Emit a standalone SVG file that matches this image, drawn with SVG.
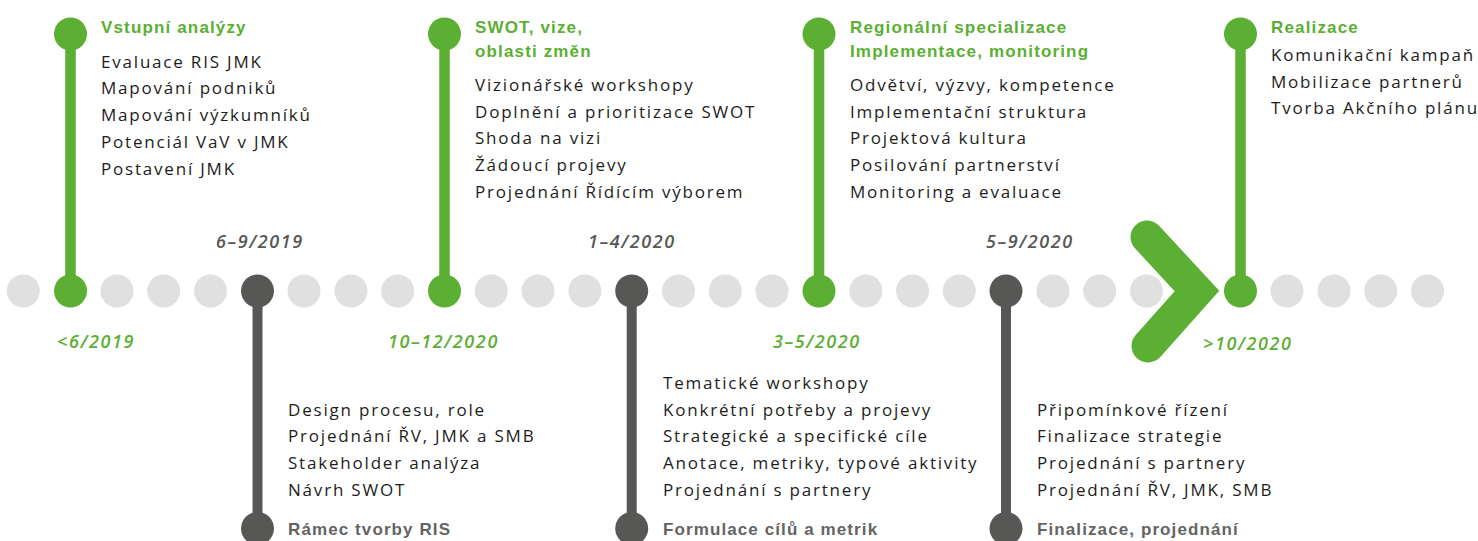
<svg xmlns="http://www.w3.org/2000/svg" width="1478" height="541" viewBox="0 0 1478 541">
<style>
.dot{fill:#e0e0e0}
.g{fill:#5baf32}
.d{fill:#575756}
.gs{stroke:#5baf32;stroke-width:10.5}
.ds{stroke:#575756;stroke-width:10}
.t{font-family:"Open Sans","Liberation Sans",Arial,sans-serif;font-size:17px;fill:#1d1d1b;letter-spacing:1.8px}
.ht{font-family:"Liberation Sans",Arial,sans-serif;font-size:17px;font-weight:bold;fill:#5baf32;letter-spacing:1.15px}
.hd{font-family:"Liberation Sans",Arial,sans-serif;font-size:17px;font-weight:bold;fill:#646463;letter-spacing:1.1px}
.dt{font-family:"Open Sans","Liberation Sans",sans-serif;font-size:18px;font-style:italic;font-weight:600;letter-spacing:1.6px}
.dg{fill:#5baf32}
.dd{fill:#575756}
</style>
<rect width="1478" height="541" fill="#ffffff"/>
<g id="connectors">
<g id="timeline-dots">
<circle class="dot" cx="23.3" cy="291" r="16.5"/>
<circle class="dot" cx="117" cy="291" r="16.5"/>
<circle class="dot" cx="163.7" cy="291" r="16.5"/>
<circle class="dot" cx="210.5" cy="291" r="16.5"/>
<circle class="dot" cx="304" cy="291" r="16.5"/>
<circle class="dot" cx="351" cy="291" r="16.5"/>
<circle class="dot" cx="397.7" cy="291" r="16.5"/>
<circle class="dot" cx="491.3" cy="291" r="16.5"/>
<circle class="dot" cx="538" cy="291" r="16.5"/>
<circle class="dot" cx="584.9" cy="291" r="16.5"/>
<circle class="dot" cx="678.5" cy="291" r="16.5"/>
<circle class="dot" cx="725.3" cy="291" r="16.5"/>
<circle class="dot" cx="772" cy="291" r="16.5"/>
<circle class="dot" cx="865.9" cy="291" r="16.5"/>
<circle class="dot" cx="912.5" cy="291" r="16.5"/>
<circle class="dot" cx="959.3" cy="291" r="16.5"/>
<circle class="dot" cx="1053" cy="291" r="16.5"/>
<circle class="dot" cx="1099.7" cy="291" r="16.5"/>
<circle class="dot" cx="1146.5" cy="291" r="16.5"/>
<circle class="dot" cx="1287" cy="291" r="16.5"/>
<circle class="dot" cx="1334" cy="291" r="16.5"/>
<circle class="dot" cx="1380.7" cy="291" r="16.5"/>
<circle class="dot" cx="1427.5" cy="291" r="16.5"/>
</g>
<path id="chevron" d="M1147 237 L1197 291 L1148 346" fill="none" stroke="#5baf32" stroke-width="33" stroke-linecap="round" stroke-linejoin="miter"/>
</g>

<g id="m1">
<line class="gs" x1="70.5" y1="34" x2="70.5" y2="291"/>
<circle class="g" cx="70.5" cy="34" r="16.5"/>
<circle class="g" cx="70.5" cy="291" r="16.5"/>
<text class="ht" x="101" y="33">Vstupní analýzy</text>
<text class="t" x="101" y="67.7">Evaluace RIS JMK</text>
<text class="t" x="101" y="94.4">Mapování podniků</text>
<text class="t" x="101" y="121.1">Mapování výzkumníků</text>
<text class="t" x="101" y="147.8">Potenciál VaV v JMK</text>
<text class="t" x="101" y="174.5">Postavení JMK</text>
<text class="dt dg" x="57" y="348">&lt;6/2019</text>
</g>

<g id="m2">
<line class="ds" x1="257.5" y1="291" x2="257.5" y2="528.5"/>
<circle class="d" cx="257.5" cy="291" r="16.5"/>
<circle class="d" cx="257.5" cy="528.5" r="16.5"/>
<text class="t" x="288" y="415.7">Design procesu, role</text>
<text class="t" x="288" y="442.4">Projednání ŘV, JMK a SMB</text>
<text class="t" x="288" y="469.1">Stakeholder analýza</text>
<text class="t" x="288" y="495.8">Návrh SWOT</text>
<text class="hd" x="288" y="535">Rámec tvorby RIS</text>
<text class="dt dd" x="216" y="248">6–9/2019</text>
</g>

<g id="m3">
<line class="gs" x1="444.5" y1="34" x2="444.5" y2="291"/>
<circle class="g" cx="444.5" cy="34" r="16.5"/>
<circle class="g" cx="444.5" cy="291" r="16.5"/>
<text class="ht" x="475" y="33">SWOT, vize,</text>
<text class="ht" x="475" y="57">oblasti změn</text>
<text class="t" x="475" y="91">Vizionářské workshopy</text>
<text class="t" x="475" y="117.7">Doplnění a prioritizace SWOT</text>
<text class="t" x="475" y="144.4">Shoda na vizi</text>
<text class="t" x="475" y="171.1">Žádoucí projevy</text>
<text class="t" x="475" y="197.8">Projednání Řídícím výborem</text>
<text class="dt dg" x="388" y="348">10–12/2020</text>
</g>

<g id="m4">
<line class="ds" x1="631.7" y1="291" x2="631.7" y2="528.5"/>
<circle class="d" cx="631.7" cy="291" r="16.5"/>
<circle class="d" cx="631.7" cy="528.5" r="16.5"/>
<text class="t" x="663" y="389">Tematické workshopy</text>
<text class="t" x="663" y="415.7">Konkrétní potřeby a projevy</text>
<text class="t" x="663" y="442.4">Strategické a specifické cíle</text>
<text class="t" x="663" y="469.1">Anotace, metriky, typové aktivity</text>
<text class="t" x="663" y="495.8">Projednání s partnery</text>
<text class="hd" x="663" y="535">Formulace cílů a metrik</text>
<text class="dt dd" x="588" y="248">1–4/2020</text>
</g>

<g id="m5">
<line class="gs" x1="819" y1="34" x2="819" y2="291"/>
<circle class="g" cx="819" cy="34" r="16.5"/>
<circle class="g" cx="819" cy="291" r="16.5"/>
<text class="ht" x="850" y="33">Regionální specializace</text>
<text class="ht" x="850" y="57">Implementace, monitoring</text>
<text class="t" x="850" y="91">Odvětví, výzvy, kompetence</text>
<text class="t" x="850" y="117.7">Implementační struktura</text>
<text class="t" x="850" y="144.4">Projektová kultura</text>
<text class="t" x="850" y="171.1">Posilování partnerství</text>
<text class="t" x="850" y="197.8">Monitoring a evaluace</text>
<text class="dt dg" x="773" y="348">3–5/2020</text>
</g>

<g id="m6">
<line class="ds" x1="1006" y1="291" x2="1006" y2="528.5"/>
<circle class="d" cx="1006" cy="291" r="16.5"/>
<circle class="d" cx="1006" cy="528.5" r="16.5"/>
<text class="t" x="1037" y="415.7">Připomínkové řízení</text>
<text class="t" x="1037" y="442.4">Finalizace strategie</text>
<text class="t" x="1037" y="469.1">Projednání s partnery</text>
<text class="t" x="1037" y="495.8">Projednání ŘV, JMK, SMB</text>
<text class="hd" x="1037" y="535">Finalizace, projednání</text>
<text class="dt dd" x="986" y="248">5–9/2020</text>
</g>

<g id="m7">
<line class="gs" x1="1240.5" y1="34" x2="1240.5" y2="291"/>
<circle class="g" cx="1240.5" cy="34" r="16.5"/>
<circle class="g" cx="1240.5" cy="291" r="16.5"/>
<text class="ht" x="1271" y="33">Realizace</text>
<text class="t" x="1271" y="61">Komunikační kampaň</text>
<text class="t" x="1271" y="87.7">Mobilizace partnerů</text>
<text class="t" x="1271" y="114.4">Tvorba Akčního plánu</text>
<text class="dt dg" x="1203" y="350">&gt;10/2020</text>
</g>
</svg>
